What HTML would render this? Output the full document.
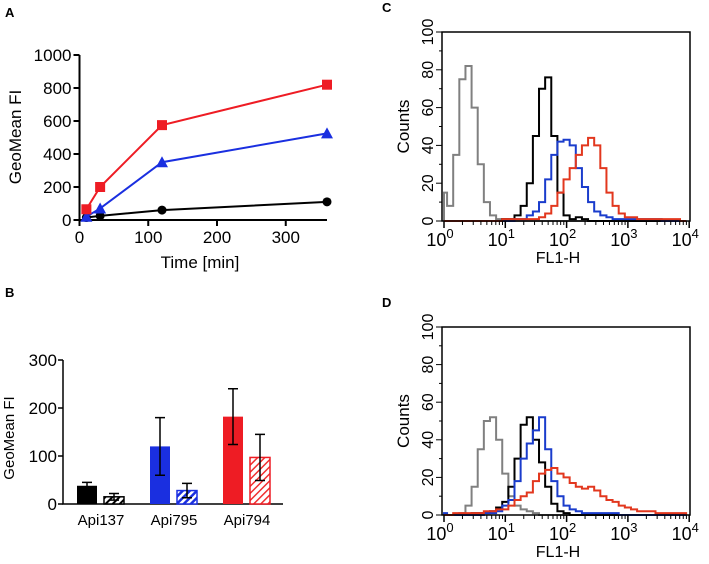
<!DOCTYPE html>
<html><head><meta charset="utf-8"><style>
body{margin:0;background:#fff}
svg{display:block;font-family:"Liberation Sans",sans-serif}
</style></head><body>
<svg id="fig" width="709" height="564" viewBox="0 0 709 564">
<defs>
<pattern id="hk" width="5" height="5" patternUnits="userSpaceOnUse" patternTransform="rotate(45)"><rect width="5" height="5" fill="#fff"/><rect width="2" height="5" fill="#000"/></pattern>
<pattern id="hb" width="5" height="5" patternUnits="userSpaceOnUse" patternTransform="rotate(45)"><rect width="5" height="5" fill="#fff"/><rect width="2.5" height="5" fill="#1a2fe0"/></pattern>
<pattern id="hr" width="5" height="5" patternUnits="userSpaceOnUse" patternTransform="rotate(45)"><rect width="5" height="5" fill="#fff"/><rect width="1.5" height="5" fill="#f03030"/></pattern>
</defs>
<g id="pa"></g>
<g id="pb"></g>
<g id="pc"></g>
<g id="pd"></g>
</svg>
<script>
// Panel A data
const timesA = [10, 30, 120, 360];
const redA = [65, 200, 575, 820];
const blueA = [20, 70, 350, 525];
const blackA = [15, 25, 60, 110];
const yTicksA = [0, 200, 400, 600, 800, 1000];
const xTicksA = [0, 100, 200, 300];
// Panel B data
const groupsB = ["Api137", "Api795", "Api794"];
const solidB = [38, 120, 182];
const solidErrB = [7, 60, 58];
const hatchB = [15, 28, 97];
const hatchErrB = [7, 15, 48];
const yTicksB = [0, 100, 200, 300];
// Histogram data, bins of 0.1 decade (centred) from 10^0 to 10^4
const grayC  = [15,8,35,75,82,60,30,10,3,1, 1,0,0,0,0,0,0,0,0,0, 0,0,0,0,0,0,0,0,0,0, 0,0,0,0,0,0,0,0,0,0];
const blackC = [0,0,0,0,0,0,0,0,0,0, 1,1,3,8,20,45,70,76,45,15, 3,1,2,1,0,0,0,0,0,0, 0,0,0,0,0,0,0,0,0,0];
const blueC  = [0,0,0,0,0,0,0,0,0,0, 0,0,1,1,3,5,10,22,35,42, 43,40,28,18,10,5,3,2,1,1, 1,1,1,1,1,1,0,0,0,0];
const redC   = [0,0,0,0,0,0,0,0,0,0, 1,1,1,1,1,1,2,4,8,15, 22,28,35,40,44,40,28,15,8,4, 2,2,1,1,1,1,1,1,1,0];
const grayD  = [0,0,0,1,5,15,35,50,52,40, 22,10,5,3,2,1,0,0,0,0, 0,0,0,0,0,0,0,0,0,0, 0,0,0,0,0,0,0,0,0,0];
const blackD = [0,0,0,0,0,1,1,1,2,4, 7,15,30,48,52,40,28,15,6,2, 1,0,0,0,0,0,0,0,0,0, 0,0,0,0,0,0,0,0,0,0];
const blueD  = [1,0,0,0,0,0,0,1,1,2, 5,8,18,30,38,45,52,35,18,10, 5,3,2,1,1,1,1,1,1,0, 0,0,0,0,0,0,0,0,0,0];
const redD   = [0,0,1,1,1,1,1,2,2,3, 3,5,8,10,12,18,22,24,25,22, 20,17,15,14,15,13,10,8,7,5, 4,3,2,2,2,1,1,1,1,1];
const countTicks = [0, 20, 40, 60, 80, 100];
const decades = [0, 1, 2, 3, 4];

const NS = "http://www.w3.org/2000/svg";
function mk(parent, tag, attrs, text){
  const e = document.createElementNS(NS, tag);
  for (const k in attrs) e.setAttribute(k, attrs[k]);
  if (text !== undefined) e.textContent = text;
  parent.appendChild(e); return e;
}

// ---------- Panel A ----------
(function(){
  const g = document.getElementById('pa');
  const x = t => 79.5 + 0.6875 * t;
  const y = v => 220 - 0.165 * v;
  let t = mk(g,'text',{x:5,y:17,'font-size':13,'font-weight':'bold'},'A');
   
  let ax = mk(g,'path',{d:`M${x(0)} ${y(1000)}V${y(0)}H${x(360)}`,stroke:'#000','stroke-width':2,fill:'none'});
   
  yTicksA.forEach(v=>{
    mk(g,'line',{x1:x(0)-6,x2:x(0),y1:y(v),y2:y(v),stroke:'#000','stroke-width':2});
    const l = mk(g,'text',{x:x(0)-8,y:y(v)+6,'font-size':17,'text-anchor':'end'},v);
     
  });
  xTicksA.forEach(v=>{
    mk(g,'line',{x1:x(v),x2:x(v),y1:y(0),y2:y(0)+6,stroke:'#000','stroke-width':2});
    const l = mk(g,'text',{x:x(v),y:243,'font-size':17,'text-anchor':'middle'},v);
     
  });
  t = mk(g,'text',{x:200,y:268,'font-size':17,'text-anchor':'middle'},'Time [min]');
   
  t = mk(g,'text',{x:0,y:0,'font-size':17,'text-anchor':'middle',transform:'translate(21,137) rotate(-90)'},'GeoMean FI');
   
  const series = [[blackA,'#000','circle'],[blueA,'#1a2fe0','tri'],[redA,'#ee1c24','sq']];
  series.forEach(([vals,col,m])=>{
    const p = mk(g,'polyline',{points:vals.map((v,i)=>x(timesA[i])+','+y(v)).join(' '),stroke:col,'stroke-width':2,fill:'none'});
     
    vals.forEach((v,i)=>{
      const cx=x(timesA[i]), cy=y(v); let e;
      if(m==='circle') e=mk(g,'circle',{cx,cy,r:4.5,fill:col});
      else if(m==='sq') e=mk(g,'rect',{x:cx-5,y:cy-5,width:10,height:10,fill:col});
      else e=mk(g,'polygon',{points:`${cx},${cy-6} ${cx-6},${cy+5} ${cx+6},${cy+5}`,fill:col});
       
    });
  });
})();

// ---------- Panel B ----------
(function(){
  const g = document.getElementById('pb');
  const y = v => 504 - 0.48 * v;
  const x0 = 63;
  let t = mk(g,'text',{x:5,y:297,'font-size':13,'font-weight':'bold'},'B');
   
  mk(g,'path',{d:`M${x0} ${y(300)}V${y(0)}H283`,stroke:'#000','stroke-width':1.5,fill:'none'});
  yTicksB.forEach(v=>{
    mk(g,'line',{x1:x0-5,x2:x0,y1:y(v),y2:y(v),stroke:'#000','stroke-width':1.5});
    const l = mk(g,'text',{x:x0-6,y:y(v)+6,'font-size':17,'text-anchor':'end'},v);
     
  });
  t = mk(g,'text',{x:0,y:0,'font-size':15,'text-anchor':'middle',transform:'translate(14,438) rotate(-90)'},'GeoMean FI');
   
  const cols = ['#000','#1a2fe0','#ee1c24'], pats=['url(#hk)','url(#hb)','url(#hr)'];
  groupsB.forEach((name,i)=>{
    const gx = 77 + i*73;
    const w = 20;
    const b1 = mk(g,'rect',{x:gx,y:y(solidB[i]),width:w,height:y(0)-y(solidB[i]),fill:cols[i]});
     
    const b2 = mk(g,'rect',{x:gx+27,y:y(hatchB[i]),width:w,height:y(0)-y(hatchB[i]),fill:pats[i],stroke:cols[i],'stroke-width':1.5});
     
    [[gx+w/2,solidB[i],solidErrB[i]],[gx+27+w/2,hatchB[i],hatchErrB[i]]].forEach(([cx,v,e])=>{
      const eb = mk(g,'path',{d:`M${cx} ${y(v-e)}V${y(v+e)}M${cx-5} ${y(v+e)}H${cx+5}M${cx-5} ${y(v-e)}H${cx+5}`,stroke:'#000','stroke-width':1.5,fill:'none'});
       
    });
    const l = mk(g,'text',{x:gx+24,y:525,'font-size':15,'text-anchor':'middle'},name);
     
  });
})();

// ---------- Histograms ----------
function hist(gid, letter, top, bottom, labelY, titleY, series){
  const g = document.getElementById(gid);
  const L=442, R=690, x0=444, dec=61.3;
  const x = lg => Math.max(L, Math.min(R, x0 + lg*dec));
  const y = c => bottom - (bottom-top)/100*c;
  let t = mk(g,'text',{x:382,y:top-20,'font-size':13,'font-weight':'bold'},letter);
   
  series.forEach(([vals,col,nm])=>{
    let d=`M${x(0)} ${y(0)}`;
    vals.forEach((v,i)=>{ d+=`V${y(v)}H${x((i+0.5)*0.1)}`; });
    d+=`V${y(0)}`;
    const p = mk(g,'path',{d,stroke:col,'stroke-width':2,fill:'none'});
     
  });
  const box = mk(g,'rect',{x:L,y:top,width:R-L,height:bottom-top,fill:'none',stroke:'#000','stroke-width':1.5});
   
  for(let c=0;c<=100;c+=10){
    const len = c%20===0?6:3;
    mk(g,'line',{x1:L-len,x2:L,y1:y(c),y2:y(c),stroke:'#000','stroke-width':1});
  }
  countTicks.forEach(c=>{
    const l = mk(g,'text',{x:0,y:0,'font-size':16,'text-anchor':'middle',transform:`translate(${L-9},${y(c)}) rotate(-90)`},c);
     
  });
  decades.forEach(dg=>{
    const xd = x0 + dg*dec;
    mk(g,'line',{x1:xd,x2:xd,y1:bottom,y2:bottom+7,stroke:'#000','stroke-width':1.5});
    if(dg<4) for(let k=2;k<10;k++){ const xx=x0+(dg+Math.log10(k))*dec; mk(g,'line',{x1:xx,x2:xx,y1:bottom,y2:bottom+4,stroke:'#000','stroke-width':1}); }
    const l = mk(g,'text',{x:xd-4,y:labelY,'font-size':18,'text-anchor':'middle'});
     
    l.appendChild(document.createTextNode('10'));
    mk(l,'tspan',{dy:-8,'font-size':13},dg);
  });
  t = mk(g,'text',{x:558,y:titleY,'font-size':16,'text-anchor':'middle'},'FL1-H');
   
  t = mk(g,'text',{x:0,y:0,'font-size':17,'text-anchor':'middle',transform:`translate(409,${(top+bottom)/2}) rotate(-90)`},'Counts');
   
}
hist('pc','C',32,221,246,263,[[grayC,'#808080','gray'],[blackC,'#000','black'],[blueC,'#1a3ccc','blue'],[redC,'#e2371e','red']]);
hist('pd','D',327,515,540,557,[[grayD,'#808080','gray'],[blackD,'#000','black'],[blueD,'#1a3ccc','blue'],[redD,'#e2371e','red']]);
</script>
</body></html>
